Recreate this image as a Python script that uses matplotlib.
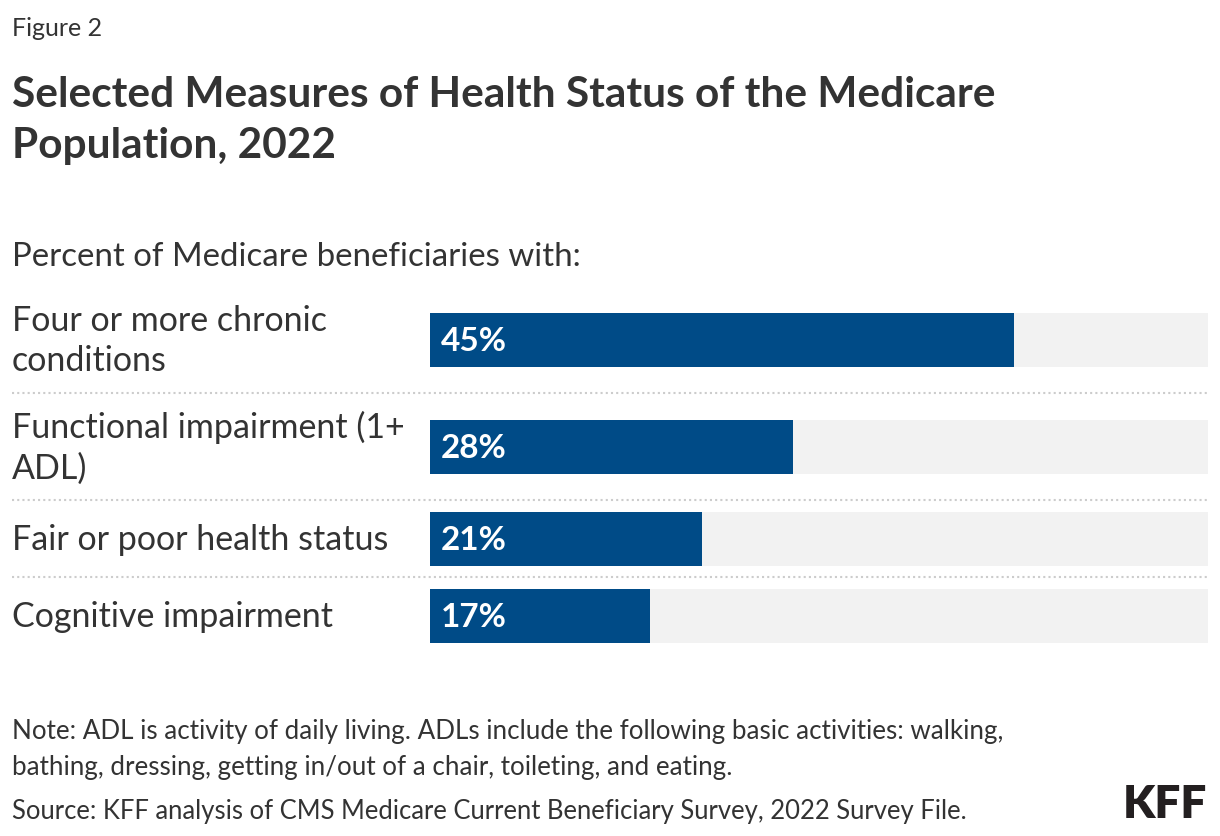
import matplotlib

matplotlib.use("Agg")
import matplotlib.pyplot as plt
from matplotlib.transforms import blended_transform_factory

# data
categories = [
    "Four or more chronic\nconditions",
    "Functional impairment (1+\nADL)",
    "Fair or poor health status",
    "Cognitive impairment",
]
values = [45, 28, 21, 17]
axis_max = 60

title = "Selected Measures of Health Status of the Medicare\nPopulation, 2022"
subtitle = "Percent of Medicare beneficiaries with:"
note = (
    "Note: ADL is activity of daily living. ADLs include the following basic activities: walking,\n"
    "bathing, dressing, getting in/out of a chair, toileting, and eating."
)
source = "Source: KFF analysis of CMS Medicare Current Beneficiary Survey, 2022 Survey File."

W, H = 1220, 836
TEXT = "#333333"
BAR = "#004B87"
TRACK = "#F2F2F2"
plt.rcParams["font.family"] = ["Lato", "DejaVu Sans"]


def fx(x):
    return x / W


def fy(y):
    return 1 - y / H


fig = plt.figure(figsize=(W / 100, H / 100), dpi=100)
fig.patch.set_facecolor("white")

fig.text(fx(12), fy(28.5), "Figure 2", fontsize=18, color=TEXT, va="center")
fig.text(fx(12), fy(120.5), title, fontsize=30.5, fontweight="bold", color=TEXT,
         va="center", linespacing=1.45)
fig.text(fx(12), fy(257), subtitle, fontsize=23.8, color=TEXT, va="center")

# rows: height grows with the number of label lines
bar_h = 54
row_heights = [max(bar_h, 40 * c.count("\n") + 40) + (27 if "\n" in c else 23)
               for c in categories]
tops = [sum(row_heights[:i]) for i in range(len(row_heights))]
centers = [t + h / 2 for t, h in zip(tops, row_heights)]
total = sum(row_heights)

top_px = 286
ax = fig.add_axes([fx(430), fy(top_px + total), fx(1208) - fx(430), total / H])
ax.set_xlim(0, axis_max)
ax.set_ylim(total, 0)
ax.axis("off")

ax.barh(centers, [axis_max] * len(values), height=bar_h, color=TRACK, left=0)
ax.barh(centers, values, height=bar_h, color=BAR, left=0)

for c, v in zip(centers, values):
    ax.annotate(f"{v}%", xy=(0, c), xytext=(7.5, -1.2), textcoords="offset points",
                color="white", fontsize=24, fontweight="bold", va="center")

label_tr = blended_transform_factory(fig.transFigure, ax.transData)
for c, label in zip(centers, categories):
    ax.text(fx(12), c + 1.5, label, transform=label_tr, fontsize=24.5, color=TEXT,
            va="center", linespacing=1.33)

for t in tops[1:]:
    ax.plot([fx(12), fx(1208)], [t, t], transform=label_tr, color="#CCCCCC",
            linestyle=(0, (1, 1.5)), linewidth=1.5, clip_on=False)

fig.text(fx(12), fy(750), note, fontsize=18.7, color=TEXT, va="center",
         linespacing=1.55)
fig.text(fx(12), fy(812), source, fontsize=18.45, color=TEXT, va="center")
fig.text(fx(1207), fy(805), "KFF", fontsize=33, fontweight="heavy", color="#231F20",
         ha="right", va="center")

fig.savefig("out.png", dpi=100)
